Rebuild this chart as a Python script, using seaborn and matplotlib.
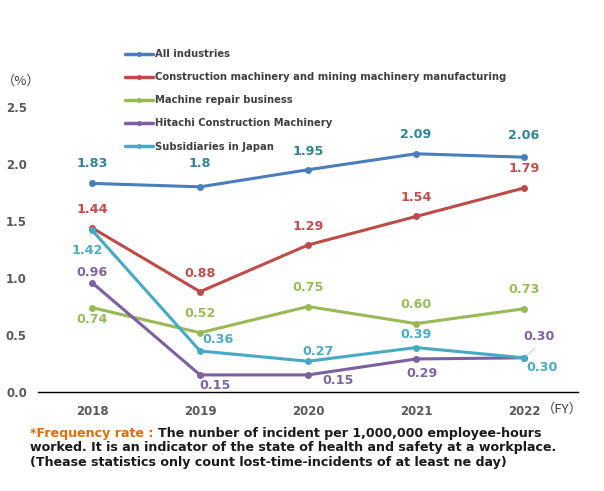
import pandas as pd
import matplotlib.pyplot as plt
import seaborn as sns

years = [2018, 2019, 2020, 2021, 2022]
series_names = [
    "All industries",
    "Construction machinery and mining machinery manufacturing",
    "Machine repair business",
    "Hitachi Construction Machinery",
    "Subsidiaries in Japan",
]
all_industries = [1.83, 1.80, 1.95, 2.09, 2.06]
construction_mfg = [1.44, 0.88, 1.29, 1.54, 1.79]
machine_repair = [0.74, 0.52, 0.75, 0.60, 0.73]
hitachi_cm = [0.96, 0.15, 0.15, 0.29, 0.30]
subsidiaries = [1.42, 0.36, 0.27, 0.39, 0.30]
value_labels = [
    ["1.83", "1.8", "1.95", "2.09", "2.06"],
    ["1.44", "0.88", "1.29", "1.54", "1.79"],
    ["0.74", "0.52", "0.75", "0.60", "0.73"],
    ["0.96", "0.15", "0.15", "0.29", "0.30"],
    ["1.42", "0.36", "0.27", "0.39", "0.30"],
]

line_colors = ["#4a7ebb", "#be4b48", "#98b954", "#7d60a0", "#46aac5"]
label_colors = ["#31849b", "#c0504d", "#9bbb59", "#8064a2", "#4bacc6"]
# label offsets in pixels (dx, dy) relative to each point
offsets = [
    [(0, 20), (0, 23), (0, 18), (0, 19), (0, 22)],
    [(0, 18), (0, 18), (0, 18), (0, 19), (0, 19)],
    [(0, -12), (0, 19), (0, 19), (0, 19), (0, 19)],
    [(0, 10), (15, -11), (30, -6), (6, -15), (15, 21)],
    [(-5, -20), (18, 11), (10, 10), (0, 13), (18, -10)],
]

sns.set_theme(style="white")
plt.rcParams["font.family"] = ["DejaVu Sans"]
plt.rcParams["font.weight"] = "bold"

rows = []
for name, vals in zip(series_names, [all_industries, construction_mfg, machine_repair, hitachi_cm, subsidiaries]):
    for y, v in zip(years, vals):
        rows.append({"year": y, "rate": v, "series": name})
df = pd.DataFrame(rows)

fig = plt.figure(figsize=(6.04, 4.91), dpi=100)
ax = fig.add_axes([0.063, 0.2016, 0.894, 0.5804])
sns.lineplot(data=df, x="year", y="rate", hue="series", hue_order=series_names,
             palette=line_colors, marker="o", markersize=5, markeredgewidth=0,
             linewidth=2.2, ax=ax, legend=False)

ax.set_xlim(2017.5, 2022.5)
ax.set_ylim(0, 2.5)
ax.set_xticks(years)
ax.set_xticklabels([str(y) for y in years])
ax.set_yticks([0, 0.5, 1.0, 1.5, 2.0, 2.5])
ax.set_yticklabels(["0.0", "0.5", "1.0", "1.5", "2.0", "2.5"])
ax.tick_params(axis="both", length=0, labelsize=8.5, labelcolor="#595959")
ax.tick_params(axis="x", pad=9)
ax.tick_params(axis="y", pad=8)
for lab in ax.get_xticklabels() + ax.get_yticklabels():
    lab.set_fontweight("bold")
ax.set_xlabel("")
ax.set_ylabel("")
for side in ["top", "right", "left"]:
    ax.spines[side].set_visible(False)
ax.spines["bottom"].set_color("black")
ax.spines["bottom"].set_linewidth(1.0)
ax.patch.set_alpha(0)

all_vals = [all_industries, construction_mfg, machine_repair, hitachi_cm, subsidiaries]
for i, vals in enumerate(all_vals):
    for j, v in enumerate(vals):
        dx, dy = offsets[i][j]
        ax.annotate(value_labels[i][j], (years[j], v), xytext=(dx, dy),
                    textcoords="offset pixels", ha="center", va="center",
                    fontsize=9.2, color=label_colors[i], fontweight="bold")

# leader lines
ax.annotate("", (years[4], hitachi_cm[4]), xytext=(years[4] + 0.12, hitachi_cm[4] + 0.1),
            arrowprops=dict(arrowstyle="-", color="#bfbfbf", lw=0.6))
ax.annotate("", (years[0], subsidiaries[0]), xytext=(years[0] - 0.03, subsidiaries[0] - 0.07),
            arrowprops=dict(arrowstyle="-", color="#bfbfbf", lw=0.6))

handles = [plt.Line2D([], [], color=c, lw=2.5, marker="o", markersize=2.5) for c in line_colors]
leg = fig.legend(handles, series_names, loc="upper left", bbox_to_anchor=(0.207, 0.900),
                 frameon=False, fontsize=7.2, handlelength=2.8, handletextpad=0.2,
                 labelspacing=1.31, borderpad=0, borderaxespad=0)
for t in leg.get_texts():
    t.set_color("#404040")
    t.set_fontweight("bold")

cjk = ["Noto Sans CJK JP", "DejaVu Sans"]
fig.text(0.003, 0.835, "（%）", fontsize=9.5, color="#404040", family=cjk,
         fontweight="normal", va="center")
fig.text(0.897, 0.167, "（FY）", fontsize=9.5, color="#404040", family=cjk,
         fontweight="normal", va="center")

t1 = fig.text(0.05, 0.110, "*Frequency rate : ", fontsize=9.1, color="#e46c0a",
              fontweight="bold", va="baseline")
fig.canvas.draw()
ax.annotate("The nunber of incident per 1,000,000 employee-hours", xy=(1, 0), xycoords=t1,
            va="bottom", ha="left", fontsize=9.1, color="#1a1a1a", fontweight="bold",
            annotation_clip=False)
fig.text(0.05, 0.0805, "worked. It is an indicator of the state of health and safety at a workplace.",
         fontsize=9.1, color="#1a1a1a", fontweight="bold", va="baseline")
fig.text(0.05, 0.051, "(Thease statistics only count lost-time-incidents of at least ne day)",
         fontsize=9.1, color="#1a1a1a", fontweight="bold", va="baseline")

fig.savefig("out.png", dpi=100)
